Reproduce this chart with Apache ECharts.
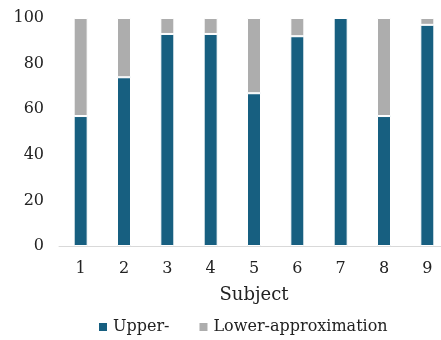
<!DOCTYPE html>
<html>
<head>
<meta charset="utf-8">
<script src="https://cdn.jsdelivr.net/npm/echarts@6/dist/echarts.min.js"></script>
<style>
  html, body { margin: 0; padding: 0; background: #fff; }
  #chart { width: 441px; height: 340px; }
</style>
</head>
<body>
<div id="chart"></div>
<script>
// data
var subjects = ['1', '2', '3', '4', '5', '6', '7', '8', '9'];
var upperVals = [57, 74, 93, 93, 67, 92, 100, 57, 97];
var lowerVals = [43, 26, 7, 7, 33, 8, 0, 43, 3];
var yTicks = [0, 20, 40, 60, 80, 100];

var font = '"DejaVu Serif", "Liberation Serif", serif';

var myChart = echarts.init(document.getElementById('chart'));

var option = {
    animation: false,
    textStyle: { fontFamily: font },
    grid: { left: 59, width: 390, top: 18, bottom: 94, outerBoundsMode: 'none' },
    legend: {
        bottom: 0,
        left: 92,
        itemWidth: 10,
        itemHeight: 10,
        itemGap: 28,
        icon: 'rect',
        textStyle: { fontFamily: font, fontSize: 16, color: '#222' },
        data: ['Upper-', 'Lower-approximation']
    },
    xAxis: {
        type: 'category',
        data: subjects,
        name: 'Subject',
        nameLocation: 'middle',
        nameGap: 40,
        nameTextStyle: { fontFamily: font, fontSize: 18, color: '#222' },
        axisLine: { lineStyle: { color: '#d9d9d9', width: 1 } },
        axisTick: { show: false },
        axisLabel: { fontFamily: font, fontSize: 16, color: '#222', margin: 15 }
    },
    yAxis: {
        type: 'value',
        min: yTicks[0],
        max: yTicks[yTicks.length - 1],
        interval: 20,
        axisLine: { show: false },
        axisTick: { show: false },
        splitLine: { show: false },
        axisLabel: { fontFamily: font, fontSize: 16, color: '#222', margin: 15 }
    },
    series: [
        {
            name: 'Upper-',
            type: 'bar',
            stack: 'all',
            barWidth: 14,
            data: upperVals,
            itemStyle: { color: '#175f80', borderColor: '#fff', borderWidth: 1 }
        },
        {
            name: 'Lower-approximation',
            type: 'bar',
            stack: 'all',
            barWidth: 14,
            data: lowerVals,
            itemStyle: { color: '#adadad', borderColor: '#fff', borderWidth: 1 }
        }
    ]
};

myChart.setOption(option);
</script>
</body>
</html>
